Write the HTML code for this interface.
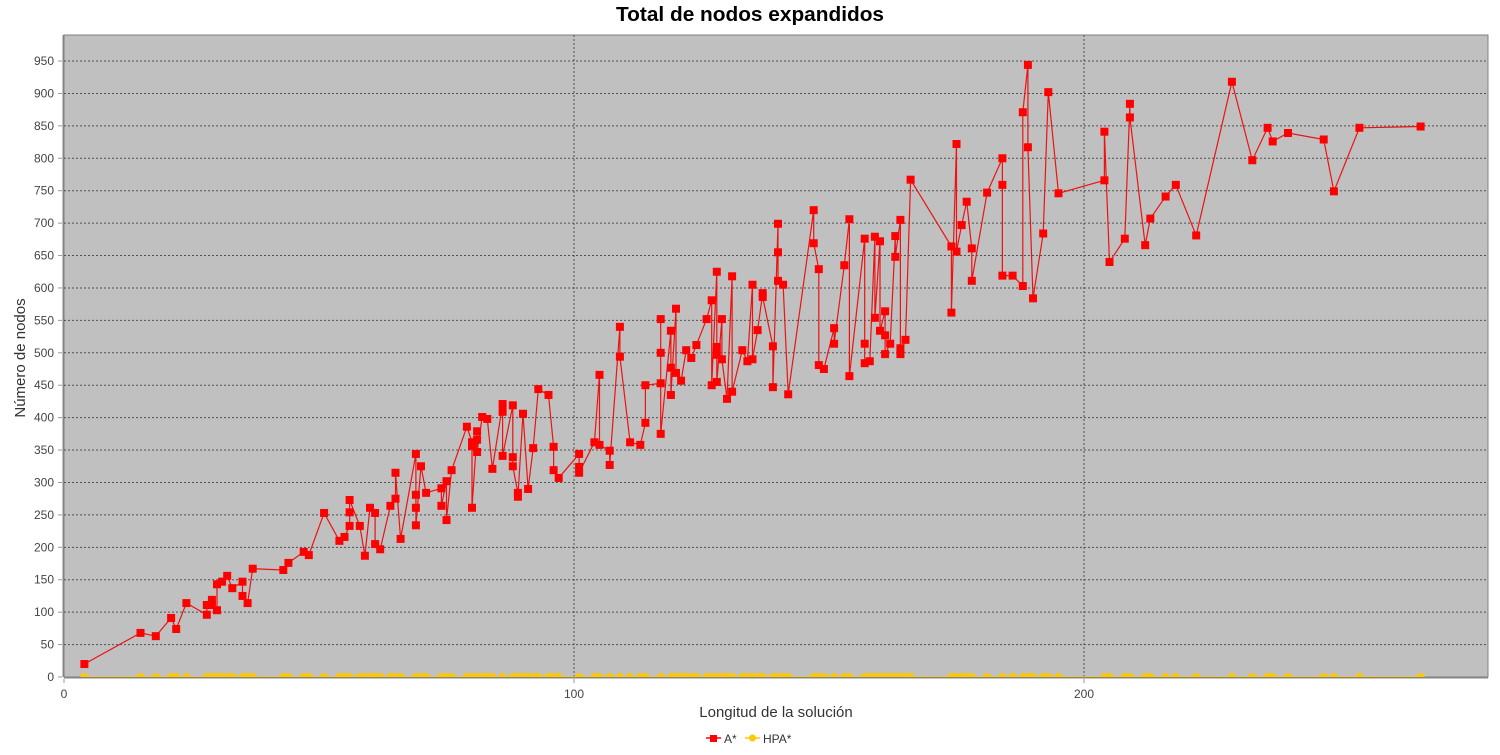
<!DOCTYPE html>
<html><head><meta charset="utf-8"><style>
body{margin:0;background:#fff;width:1500px;height:750px;overflow:hidden;font-family:"Liberation Sans",sans-serif}
</style></head><body>
<svg id="chart" width="1500" height="750" xmlns="http://www.w3.org/2000/svg" font-family="Liberation Sans, sans-serif"></svg>
<script>
const astarX=[4,15,18,21,22,24,28,28,29,29,30,30,31,32,33,35,35,36,37,43,44,47,48,51,54,55,56,56,56,58,59,60,61,61,62,64,65,65,66,69,69,69,69,70,71,74,74,75,75,76,79,80,80,80,81,81,81,82,83,84,86,86,86,88,88,88,89,89,90,91,92,93,95,96,96,97,101,101,101,104,105,105,107,107,109,109,111,113,114,114,117,117,117,117,119,119,119,120,120,121,122,123,124,126,127,127,128,128,128,128,129,129,130,131,131,133,134,135,135,136,137,137,139,139,140,140,140,141,142,147,147,148,148,149,151,151,153,154,154,157,157,157,158,159,159,160,160,161,161,161,162,163,163,164,164,164,165,166,174,174,175,175,176,177,178,178,181,184,184,184,186,188,188,189,189,190,192,193,195,204,204,205,208,209,209,212,213,216,218,222,229,233,236,237,240,247,249,254,266];
const astarY=[20,68,63,91,74,114,96,111,119,111,103,143,147,156,137,147,125,114,167,165,176,193,188,253,210,216,233,254,273,233,187,261,253,205,197,264,275,315,213,344,281,261,234,325,284,291,264,302,242,319,386,362,356,261,379,366,347,401,398,321,421,409,341,419,339,325,284,278,406,290,353,444,435,355,319,307,344,324,315,362,466,358,349,327,540,494,362,358,392,450,453,500,552,375,534,477,435,568,469,457,504,492,512,552,581,450,625,509,497,455,552,490,429,618,440,504,487,605,490,535,592,586,510,447,699,655,611,605,436,720,669,629,481,475,538,514,635,706,464,676,514,484,487,679,554,672,534,564,527,498,514,680,648,705,507,498,520,767,664,562,822,656,697,733,661,611,747,800,759,619,619,603,871,944,817,584,684,902,746,766,841,640,676,884,863,666,707,741,759,681,918,797,847,826,839,829,749,847,849];
const hpaX=[4,15,18,21,22,24,28,29,30,31,32,33,35,36,37,43,44,47,48,51,54,55,56,58,59,60,61,62,64,65,66,69,70,71,74,75,76,79,80,81,82,83,84,86,88,89,90,91,92,93,95,96,97,101,104,105,107,109,111,113,114,117,119,120,121,122,123,124,126,127,128,129,130,131,133,134,135,136,137,139,140,141,142,147,148,149,151,153,154,157,158,159,160,161,162,163,164,165,166,174,175,176,177,178,181,184,186,188,189,190,192,193,195,204,205,208,209,212,213,216,218,222,229,233,236,237,240,247,249,254,266];
const hpaY=[0,0,0,0,0,0,0,0,0,0,0,0,0,0,0,0,0,0,0,0,0,0,0,0,0,0,0,0,0,0,0,0,0,0,0,0,0,0,0,0,0,0,0,0,0,0,0,0,0,0,0,0,0,0,0,0,0,0,0,0,0,0,0,0,0,0,0,0,0,0,0,0,0,0,0,0,0,0,0,0,0,0,0,0,0,0,0,0,0,0,0,0,0,0,0,0,0,0,0,0,0,0,0,0,0,0,0,0,0,0,0,0,0,0,0,0,0,0,0,0,0,0,0,0,0,0,0,0,0,0,0];
const yTicks=[0,50,100,150,200,250,300,350,400,450,500,550,600,650,700,750,800,850,900,950];
const xTicks=[0,100,200];

const NS="http://www.w3.org/2000/svg";
const svg=document.getElementById('chart');
const L=64,T=35,R=1488,B=677;
const X0=0,X1=(R-L)/5.1,Y0=0,Y1=(B-T)/0.6484;
function sx(v){return L+(v-X0)/(X1-X0)*(R-L);}
function sy(v){return B-(v-Y0)/(Y1-Y0)*(B-T);}
function mk(tag,attrs,parent){const e=document.createElementNS(NS,tag);for(const k in attrs)e.setAttribute(k,attrs[k]);(parent||svg).appendChild(e);return e;}

const title=mk('text',{x:750,y:21,'text-anchor':'middle','font-size':20,'font-weight':'bold',fill:'#000',textLength:268,lengthAdjust:'spacingAndGlyphs'});
title.textContent='Total de nodos expandidos';



const bg=mk('rect',{x:L,y:T,width:R-L,height:B-T,fill:'#c0c0c0',stroke:'#808080','stroke-width':1});



const defs=mk('defs',{});
const cp=mk('clipPath',{id:'clip'},defs);
mk('rect',{x:L,y:T,width:R-L,height:B-T},cp);

const grid=mk('g',{});


yTicks.forEach(t=>{
  if(t>0) mk('line',{x1:L,x2:R,y1:sy(t),y2:sy(t),stroke:'#505050','stroke-width':1,'stroke-dasharray':'2,2'},grid);
  const lbl=mk('text',{x:L-10,y:sy(t)+4,'text-anchor':'end','font-size':12,fill:'#444'});
  lbl.textContent=t;
  
  
  mk('line',{x1:L-6,x2:L-2,y1:sy(t),y2:sy(t),stroke:'#999'});
});
xTicks.forEach(t=>{
  if(t>0) mk('line',{x1:sx(t),x2:sx(t),y1:T,y2:B,stroke:'#505050','stroke-width':1,'stroke-dasharray':'2,2'},grid);
  const lbl=mk('text',{x:sx(t),y:B+21,'text-anchor':'middle','font-size':12,fill:'#444'});
  lbl.textContent=t;
  
  
  mk('line',{x1:sx(t),x2:sx(t),y1:B+2,y2:B+6,stroke:'#999'});
});
mk('line',{x1:L,x2:R,y1:B+1,y2:B+1,stroke:'#888','stroke-width':1});
mk('line',{x1:L-1,x2:L-1,y1:T,y2:B,stroke:'#888','stroke-width':1});

const xt=mk('text',{x:776,y:717,'text-anchor':'middle','font-size':15,fill:'#333'});
xt.textContent='Longitud de la solución';


const yt=mk('text',{x:0,y:0,'text-anchor':'middle','font-size':15,fill:'#333',transform:'translate(25,358) rotate(-90)'});
yt.textContent='Número de nodos';



const plot=mk('g',{'clip-path':'url(#clip)'});
const hg=mk('g',{},plot);


mk('polyline',{points:hpaX.map((x,i)=>sx(x)+','+sy(hpaY[i])).join(' '),fill:'none',stroke:'#ffc800','stroke-width':1.5},hg);
hpaX.forEach((x,i)=>{
  const c=mk('circle',{cx:sx(x),cy:sy(hpaY[i]),r:4,fill:'#ffc800'},hg);
  
  
});
const ag=mk('g',{},plot);


mk('polyline',{points:astarX.map((x,i)=>sx(x)+','+sy(astarY[i])).join(' '),fill:'none',stroke:'#ee1111','stroke-width':1.2},ag);
astarX.forEach((x,i)=>{
  const r=mk('rect',{x:sx(x)-4,y:sy(astarY[i])-4,width:8,height:8,fill:'#ff0000'},ag);
  
  
});

const lg=mk('g',{});


mk('line',{x1:706,x2:721,y1:738,y2:738,stroke:'#f00','stroke-width':1.5},lg);
mk('rect',{x:710,y:735,width:7,height:7,fill:'#f00'},lg);
const l1=mk('text',{x:724,y:743,'font-size':12,fill:'#333'},lg);
l1.textContent='A*';


mk('line',{x1:745,x2:760,y1:738,y2:738,stroke:'#ffc800','stroke-width':1.5},lg);
mk('circle',{cx:752.5,cy:738,r:3.5,fill:'#ffc800'},lg);
const l2=mk('text',{x:763,y:743,'font-size':12,fill:'#333'},lg);
l2.textContent='HPA*';


</script>
</body></html>
